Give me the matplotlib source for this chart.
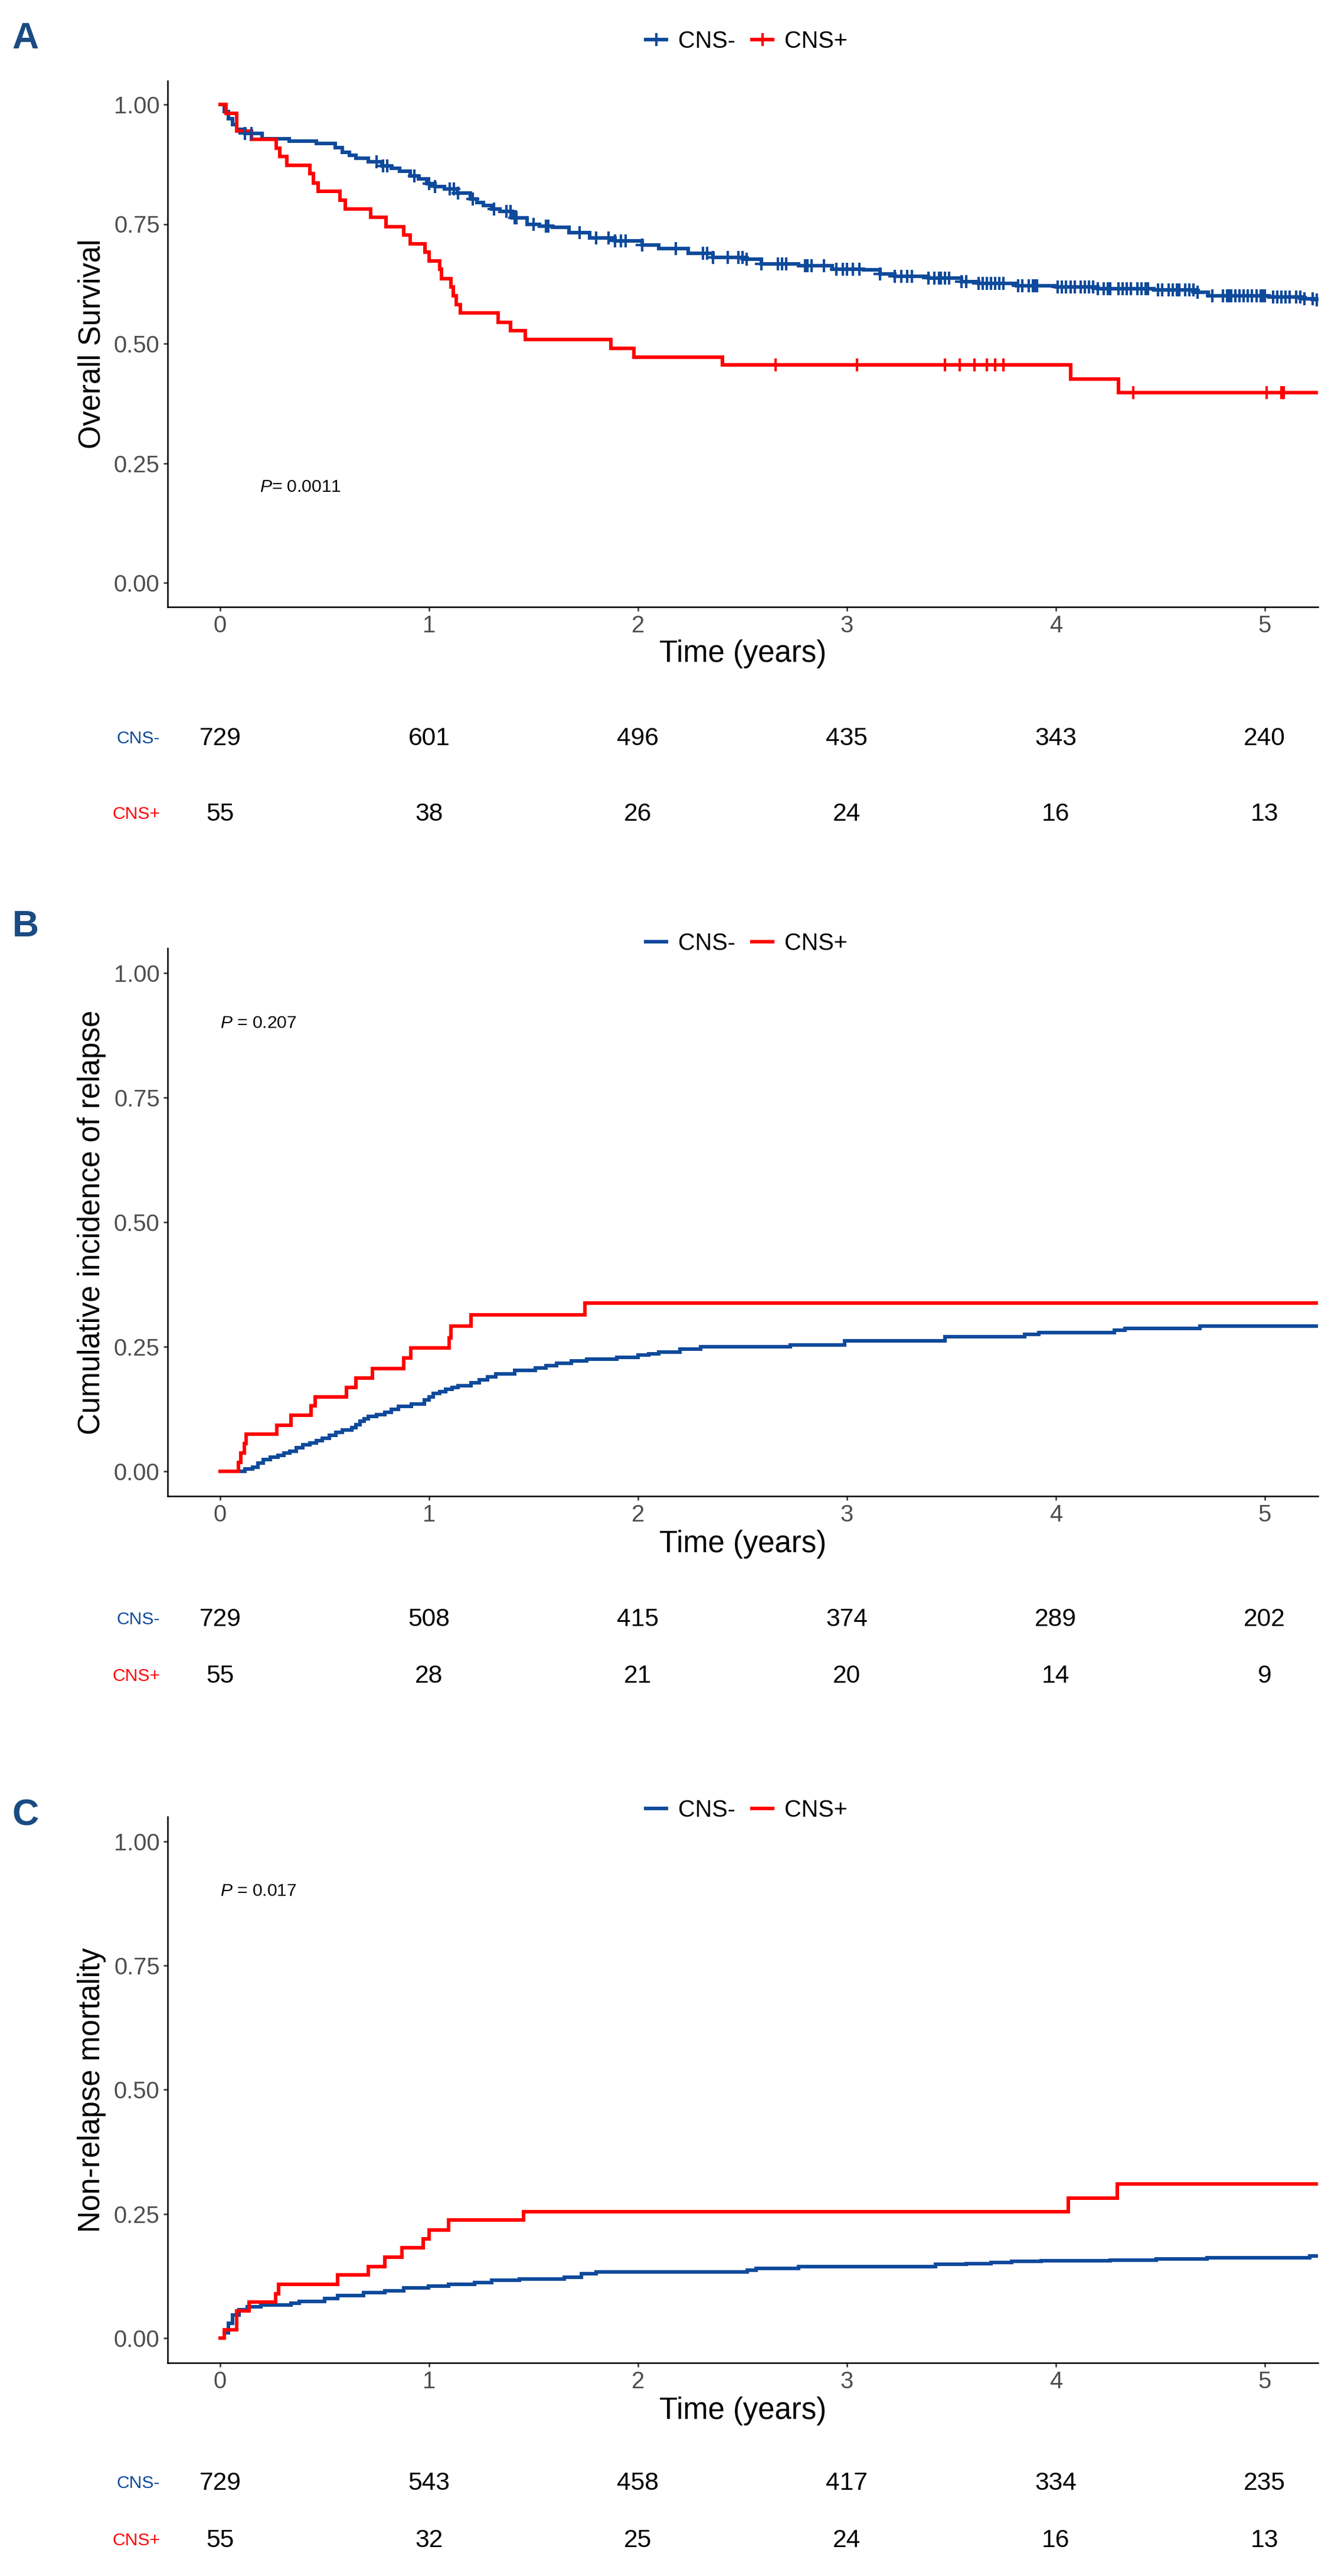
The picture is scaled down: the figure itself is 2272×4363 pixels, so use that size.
import numpy as np
import matplotlib
matplotlib.use("Agg")
import matplotlib.pyplot as plt
from matplotlib.lines import Line2D
from matplotlib.transforms import blended_transform_factory

plt.rcParams["font.family"] = ["Liberation Sans", "DejaVu Sans"]
plt.rcParams["mathtext.fontset"] = "custom"
plt.rcParams["mathtext.it"] = "Liberation Sans:italic"
plt.rcParams["mathtext.rm"] = "Liberation Sans"

# ---------------- data ----------------
GROUPS = ["CNS-", "CNS+"]
RISK_TIMES = [0, 1, 2, 3, 4, 5]

# A: overall survival (Kaplan-Meier)
os_neg_t = [0, 0.02, 0.04, 0.06, 0.08, 0.12, 0.2, 0.33, 0.46, 0.55, 0.585, 0.62, 0.65,
            0.71, 0.775, 0.82, 0.86, 0.91, 0.95, 0.99, 1.03, 1.075, 1.136, 1.197, 1.23,
            1.26, 1.30, 1.34, 1.40, 1.47, 1.53, 1.59, 1.67, 1.77, 1.89, 2.02, 2.1, 2.24,
            2.36, 2.51, 2.59, 2.77, 2.93, 3.08, 3.16, 3.23, 3.39, 3.55, 3.63, 3.81, 4.0,
            4.2, 4.47, 4.67, 4.73, 5.02, 5.18, 5.25]
os_neg_s = [1.0, 0.985, 0.97, 0.958, 0.948, 0.94, 0.929, 0.923, 0.918, 0.91, 0.9, 0.894,
            0.888, 0.88, 0.872, 0.867, 0.861, 0.851, 0.845, 0.834, 0.828, 0.823, 0.815,
            0.802, 0.795, 0.789, 0.782, 0.776, 0.763, 0.75, 0.746, 0.743, 0.732, 0.721,
            0.715, 0.706, 0.699, 0.689, 0.68, 0.676, 0.667, 0.663, 0.656, 0.654, 0.646,
            0.641, 0.637, 0.63, 0.626, 0.621, 0.619, 0.615, 0.612, 0.607, 0.6, 0.597,
            0.594, 0.591]
os_pos_t = [0, 0.03, 0.08, 0.15, 0.27, 0.286, 0.32, 0.43, 0.446, 0.47, 0.573, 0.60, 0.72,
            0.795, 0.88, 0.91, 0.98, 1.0, 1.05, 1.06, 1.105, 1.115, 1.13, 1.15, 1.33,
            1.39, 1.46, 1.87, 1.98, 2.405, 4.07, 4.30]
os_pos_s = [1.0, 0.982, 0.945, 0.927, 0.909, 0.891, 0.873, 0.855, 0.836, 0.818, 0.800,
            0.782, 0.764, 0.745, 0.727, 0.709, 0.691, 0.673, 0.655, 0.636, 0.618, 0.600,
            0.582, 0.564, 0.545, 0.527, 0.509, 0.490, 0.472, 0.455, 0.426, 0.398]
os_neg_cens = [0.12, 0.15, 0.75, 0.78, 0.80, 0.93, 1.0, 1.03, 1.1, 1.12, 1.14, 1.21, 1.31,
               1.37, 1.39, 1.41, 1.42, 1.5, 1.56, 1.57, 1.72, 1.8, 1.86, 1.89, 1.92, 1.94,
               2.02, 2.18, 2.31, 2.33, 2.36, 2.43, 2.48, 2.5, 2.52, 2.59, 2.67, 2.69, 2.71,
               2.8, 2.81, 2.83, 2.89, 2.95, 2.98, 3.0, 3.03, 3.06, 3.16, 3.23, 3.26, 3.29,
               3.31, 3.39, 3.42, 3.44, 3.45, 3.47, 3.49, 3.55, 3.57, 3.63, 3.65, 3.67,
               3.69, 3.71, 3.73, 3.75, 3.82, 3.84, 3.87, 3.89, 3.9, 3.91, 4.01, 4.03, 4.05,
               4.07, 4.09, 4.12, 4.14, 4.16, 4.18, 4.2, 4.23, 4.25, 4.26, 4.3, 4.32, 4.34,
               4.36, 4.39, 4.41, 4.43, 4.44, 4.49, 4.51, 4.54, 4.56, 4.58, 4.59, 4.62,
               4.64, 4.66, 4.68, 4.75, 4.8, 4.82, 4.83, 4.84, 4.86, 4.88, 4.9, 4.92, 4.94,
               4.96, 4.98, 4.99, 5.0, 5.04, 5.06, 5.08, 5.1, 5.12, 5.15, 5.17, 5.19, 5.23,
               5.25]
os_pos_cens = [2.66, 3.05, 3.47, 3.54, 3.61, 3.67, 3.71, 3.75, 4.37, 5.01, 5.08, 5.09]
os_risk_neg = [729, 601, 496, 435, 343, 240]
os_risk_pos = [55, 38, 26, 24, 16, 13]

# B: cumulative incidence of relapse
cir_neg_t = [0, 0.08, 0.12, 0.157, 0.18, 0.207, 0.24, 0.278, 0.305, 0.333, 0.365, 0.397,
             0.43, 0.46, 0.49, 0.524, 0.555, 0.585, 0.63, 0.65, 0.67, 0.69, 0.71, 0.75,
             0.79, 0.82, 0.855, 0.916, 0.977, 1.0, 1.02, 1.05, 1.08, 1.11, 1.14, 1.2, 1.24,
             1.28, 1.32, 1.41, 1.51, 1.56, 1.61, 1.68, 1.755, 1.898, 2.0, 2.05, 2.1, 2.2,
             2.3, 2.73, 2.99, 3.47, 3.85, 3.92, 4.28, 4.33, 4.69]
cir_neg_v = [0, 0, 0.004, 0.008, 0.016, 0.024, 0.028, 0.032, 0.036, 0.04, 0.047, 0.053,
             0.057, 0.061, 0.066, 0.072, 0.078, 0.083, 0.087, 0.093, 0.1, 0.105, 0.11,
             0.114, 0.118, 0.124, 0.13, 0.135, 0.143, 0.149, 0.156, 0.16, 0.164, 0.168,
             0.172, 0.178, 0.184, 0.189, 0.195, 0.202, 0.207, 0.212, 0.217, 0.221, 0.225,
             0.229, 0.233, 0.236, 0.239, 0.245, 0.25, 0.254, 0.262, 0.27, 0.275, 0.278,
             0.283, 0.287, 0.291]
cir_pos_t = [0, 0.088, 0.10, 0.115, 0.125, 0.272, 0.34, 0.436, 0.456, 0.605, 0.65, 0.728,
             0.879, 0.912, 1.096, 1.104, 1.2, 1.746]
cir_pos_v = [0, 0.018, 0.037, 0.056, 0.075, 0.092, 0.112, 0.131, 0.149, 0.168, 0.187,
             0.206, 0.227, 0.248, 0.268, 0.291, 0.314, 0.3375]
cir_risk_neg = [729, 508, 415, 374, 289, 202]
cir_risk_pos = [55, 28, 21, 20, 14, 9]

# C: non-relapse mortality
nrm_neg_t = [0, 0.02, 0.04, 0.06, 0.09, 0.13, 0.195, 0.34, 0.38, 0.5, 0.563, 0.686, 0.79,
             0.88, 0.997, 1.095, 1.218, 1.3, 1.433, 1.648, 1.73, 1.8, 2.524, 2.565, 2.77,
             3.425, 3.57, 3.69, 3.79, 3.93, 4.26, 4.48, 4.725, 5.216]
nrm_neg_v = [0, 0.011, 0.03, 0.046, 0.057, 0.063, 0.066, 0.0705, 0.074, 0.08, 0.086,
             0.091, 0.095, 0.101, 0.104, 0.1085, 0.1115, 0.116, 0.119, 0.123, 0.129,
             0.133, 0.1366, 0.14, 0.144, 0.148, 0.15, 0.152, 0.154, 0.1555, 0.157, 0.159,
             0.1616, 0.165]
nrm_pos_t = [0, 0.02, 0.08, 0.14, 0.266, 0.28, 0.563, 0.71, 0.79, 0.87, 0.973, 1.0, 1.095,
             1.453, 4.06, 4.295]
nrm_pos_v = [0, 0.017, 0.055, 0.072, 0.089, 0.108, 0.127, 0.144, 0.163, 0.182, 0.2, 0.218,
             0.2375, 0.254, 0.282, 0.31]
nrm_risk_neg = [729, 543, 458, 417, 334, 235]
nrm_risk_pos = [55, 32, 25, 24, 16, 13]

# ---------------- styling ----------------
W, H = 2272, 4363
DPI = 300
BLUE = "#0E4A9B"
RED = "#FF0000"
LETTER_BLUE = "#1A4B82"
TICK_GREY = "#4D4D4D"
X_END = 5.3


def px_x(x):
    return x / W


def px_y(y):
    return 1 - y / H


panels = [
    dict(letter="A", ylabel="Overall Survival", top=136.5, bottom=1027.5, letter_y=65,
         legend_y=70, time_y=1107, risk_y=(1251, 1379), p_text=r"$P$= 0.0011",
         p_xy=(0.19, 0.2), km=True,
         neg=(os_neg_t, os_neg_s), pos=(os_pos_t, os_pos_s),
         cens=(os_neg_cens, os_pos_cens), risk=(os_risk_neg, os_risk_pos)),
    dict(letter="B", ylabel="Cumulative incidence of relapse", top=1606, bottom=2534,
         letter_y=1570, legend_y=1598, time_y=2616, risk_y=(2743, 2839),
         p_text=r"$P$ = 0.207", p_xy=(0.0, 0.9), km=False,
         neg=(cir_neg_t, cir_neg_v), pos=(cir_pos_t, cir_pos_v),
         cens=None, risk=(cir_risk_neg, cir_risk_pos)),
    dict(letter="C", ylabel="Non-relapse mortality", top=3077, bottom=4002,
         letter_y=3075, legend_y=3066, time_y=4083, risk_y=(4206, 4303),
         p_text=r"$P$ = 0.017", p_xy=(0.0, 0.9), km=False,
         neg=(nrm_neg_t, nrm_neg_v), pos=(nrm_pos_t, nrm_pos_v),
         cens=None, risk=(nrm_risk_neg, nrm_risk_pos)),
]

fig = plt.figure(figsize=(W / DPI, H / DPI), dpi=DPI)

AX_LEFT, AX_RIGHT = 284, 2233

for p in panels:
    ax = fig.add_axes([px_x(AX_LEFT), px_y(p["bottom"]),
                       (AX_RIGHT - AX_LEFT) / W, (p["bottom"] - p["top"]) / H])

    for (t, v), color in zip([p["neg"], p["pos"]], [BLUE, RED]):
        t_ext = list(t) + [X_END]
        v_ext = list(v) + [v[-1]]
        ax.plot(t_ext, v_ext, drawstyle="steps-post", color=color, lw=1.45,
                solid_joinstyle="miter", zorder=3 if color == RED else 2)

    if p["cens"] is not None:
        for (t, v), cens, color in zip([p["neg"], p["pos"]], p["cens"], [BLUE, RED]):
            t_arr = np.asarray(t)
            idx = np.searchsorted(t_arr, cens, side="right") - 1
            ax.plot(cens, np.asarray(v)[idx], ls="none", marker="+", color=color,
                    ms=5.5, mew=1.0, zorder=4)

    ax.set_xlim(-0.251, 5.255)
    ax.set_ylim(-0.05, 1.05)
    ax.set_xticks(RISK_TIMES)
    ax.set_yticks([0, 0.25, 0.5, 0.75, 1.0])
    ax.set_yticklabels(["0.00", "0.25", "0.50", "0.75", "1.00"])
    ax.tick_params(axis="both", labelsize=9.6, labelcolor=TICK_GREY, color="#333333",
                   length=1.7, width=0.6, pad=1.5)
    for side in ["top", "right"]:
        ax.spines[side].set_visible(False)
    for side in ["left", "bottom"]:
        ax.spines[side].set_linewidth(0.6)
        ax.spines[side].set_color("black")

    # P value
    ax.text(p["p_xy"][0], p["p_xy"][1], p["p_text"], fontsize=7.2, ha="left",
            va="center", color="black")

    # axis titles
    fig.text(px_x(156), px_y((p["top"] + p["bottom"]) / 2), p["ylabel"], rotation=90,
             ha="center", va="center", fontsize=12.2)
    fig.text(px_x((AX_LEFT + AX_RIGHT) / 2), px_y(p["time_y"]), "Time (years)",
             ha="center", va="center", fontsize=12.2)

    # panel letter
    fig.text(px_x(43), px_y(p["letter_y"]), p["letter"], fontsize=15,
             fontweight="heavy", color=LETTER_BLUE, ha="center", va="center")

    # legend
    mk = "+" if p["km"] else None
    handles = [Line2D([], [], color=BLUE, lw=1.45, marker=mk, ms=5.5, mew=1.0),
               Line2D([], [], color=RED, lw=1.45, marker=mk, ms=5.5, mew=1.0)]
    fig.legend(handles, GROUPS, loc="center", bbox_to_anchor=(px_x(1265), px_y(p["legend_y"])),
               ncol=2, frameon=False, fontsize=9.5, handlelength=0.9,
               handletextpad=0.5, columnspacing=0.7, borderpad=0)

    # number at risk table
    trans = blended_transform_factory(ax.transData, fig.transFigure)
    for counts, ry, gname, gcol in zip(p["risk"], p["risk_y"], GROUPS, [BLUE, RED]):
        fig.text(px_x(271), px_y(ry), gname, color=gcol, fontsize=7.2,
                 ha="right", va="center")
        for tt, n in zip(RISK_TIMES, counts):
            ax.text(tt, px_y(ry), str(n), transform=trans, fontsize=10.2,
                    ha="center", va="center", color="black", clip_on=False)

fig.savefig("out.png", dpi=DPI, facecolor="white")
